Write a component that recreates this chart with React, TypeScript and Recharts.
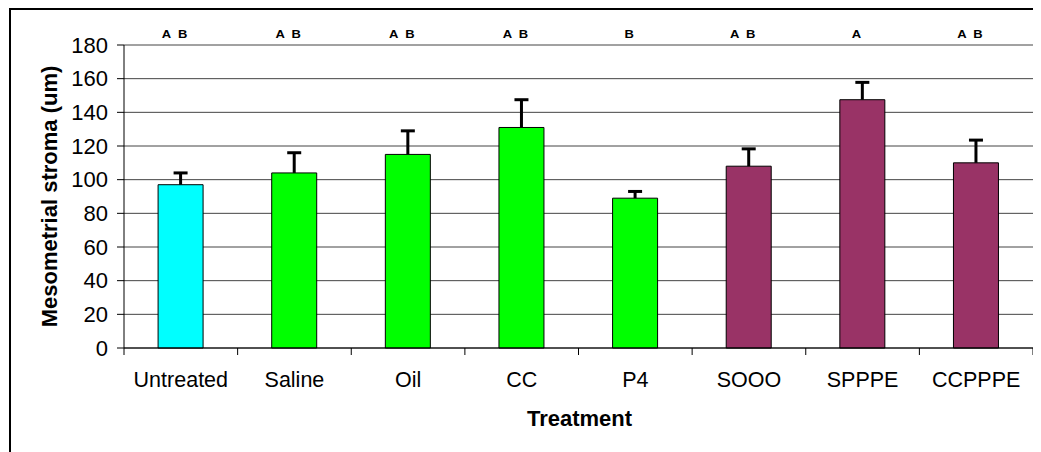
import React from 'react';
import { BarChart, Bar, XAxis, YAxis, CartesianGrid, Cell, LabelList } from 'recharts';

const TREATMENTS = ['Untreated', 'Saline', 'Oil', 'CC', 'P4', 'SOOO', 'SPPPE', 'CCPPPE'];
const MEANS = [97, 104, 115, 131, 89, 108, 147.5, 110];
const ERRORS = [7, 12, 14, 16.5, 4, 10.3, 10.3, 13.5];
const GROUP_LETTERS = ['A  B', 'A  B', 'A  B', 'A  B', 'B', 'A  B', 'A', 'A  B'];
const Y_TICKS = [0, 20, 40, 60, 80, 100, 120, 140, 160, 180];

const FILLS = ['#00FFFF', '#00FF00', '#00FF00', '#00FF00', '#00FF00', '#993366', '#993366', '#993366'];

const data = TREATMENTS.map((name, i) => ({ name, mean: MEANS[i], err: ERRORS[i], letters: GROUP_LETTERS[i] }));

const FONT = '"Liberation Sans", Arial, sans-serif';
const CHART_W = 1033;
const CHART_H = 444;
const MARGIN = { top: 37, right: 8, left: 0, bottom: 0 };
const Y_AXIS_W = 116;
const X_AXIS_H = 104;
const BAND = (CHART_W - MARGIN.right - Y_AXIS_W) / TREATMENTS.length;
const LETTER_BASELINE = MARGIN.top - 7.5;

const XTick = (props: any) => {
  const { x, y, payload, index } = props;
  const last = index === TREATMENTS.length - 1;
  return (
    <g>
      <line x1={x - BAND / 2} x2={x - BAND / 2} y1={y} y2={y + 7} stroke="#000" strokeWidth={1} />
      {last && <line x1={x + BAND / 2} x2={x + BAND / 2} y1={y} y2={y + 7} stroke="#000" strokeWidth={1} />}
      <text x={x} y={y + 39} textAnchor="middle" fontFamily={FONT} fontSize={21.5} fill="#000">
        {payload.value}
      </text>
    </g>
  );
};

const LetterLabel = (props: any) => {
  const { x, width, value } = props;
  if (x == null) return null;
  const cx = Number(x) + Number(width) / 2 - 6;
  return (
    <text
      transform={`translate(${cx},${LETTER_BASELINE}) scale(1.3,1)`}
      textAnchor="middle"
      fontFamily={FONT}
      fontWeight="bold"
      fontSize={10}
      fill="#000"
      style={{ whiteSpace: 'pre' }}
    >
      {value}
    </text>
  );
};

const YLabel = (props: any) => {
  const vb = props.viewBox || { x: 0, y: 37, width: 116, height: 303 };
  const cx = vb.x + 41;
  const cy = vb.y + vb.height / 2;
  return (
    <text
      x={cx}
      y={cy}
      transform={`rotate(-90, ${cx}, ${cy})`}
      textAnchor="middle"
      dominantBaseline="central"
      fontFamily={FONT}
      fontWeight="bold"
      fontSize={22}
      fill="#000"
    >
      Mesometrial stroma (um)
    </text>
  );
};

const XLabel = (props: any) => {
  const vb = props.viewBox || { x: 116, y: 340, width: 909, height: 104 };
  return (
    <text
      x={vb.x + vb.width / 2 + 1}
      y={vb.y + 78}
      textAnchor="middle"
      fontFamily={FONT}
      fontWeight="bold"
      fontSize={22}
      fill="#000"
    >
      Treatment
    </text>
  );
};

const ErrShape = (p: any) => {
  const { x, y, width, height } = p;
  if (x == null || y == null) return <g />;
  const cx = x + width / 2;
  return (
    <g>
      <line x1={cx} x2={cx} y1={y} y2={y + height} stroke="#000" strokeWidth={3} />
      <line x1={cx - 7} x2={cx + 7} y1={y} y2={y} stroke="#000" strokeWidth={3} />
    </g>
  );
};

export default function App() {
  return (
    <div style={{ position: 'relative', width: CHART_W, height: CHART_H, overflow: 'hidden' }}>
      <style>{'html, body { overflow: hidden; }'}</style>
      <div
        style={{
          position: 'absolute',
          left: 1,
          top: 0,
          width: CHART_W - 1,
          height: CHART_H,
          borderLeft: '2px solid #000',
          borderTop: '2px solid #000',
          boxSizing: 'border-box',
        }}
      />
      <div style={{ position: 'absolute', left: 0, top: 0 }}>
        <BarChart width={CHART_W} height={CHART_H} data={data} margin={MARGIN} barCategoryGap="30%">
          <CartesianGrid horizontal vertical={false} stroke="#444" strokeWidth={1} />
          <XAxis
            dataKey="name"
            interval={0}
            height={X_AXIS_H}
            axisLine={{ stroke: '#000', strokeWidth: 1 }}
            tickLine={false}
            tickSize={0}
            tickMargin={0}
            tick={<XTick />}
            label={<XLabel />}
          />
          <YAxis
            domain={[0, 180]}
            ticks={Y_TICKS}
            interval={0}
            width={Y_AXIS_W}
            axisLine={{ stroke: '#000', strokeWidth: 1 }}
            tickLine={{ stroke: '#000', strokeWidth: 1 }}
            tickSize={7}
            tickMargin={9}
            tick={{ fontFamily: FONT, fontSize: 22, fill: '#000' }}
            label={<YLabel />}
          />
          <Bar dataKey="mean" stackId="s" stroke="#000" strokeWidth={1} isAnimationActive={false}>
            {data.map((d, i) => (
              <Cell key={d.name} fill={FILLS[i]} />
            ))}
            <LabelList dataKey="letters" content={<LetterLabel />} />
          </Bar>
          <Bar dataKey="err" stackId="s" fill="none" shape={<ErrShape />} isAnimationActive={false} />
        </BarChart>
      </div>
    </div>
  );
}
